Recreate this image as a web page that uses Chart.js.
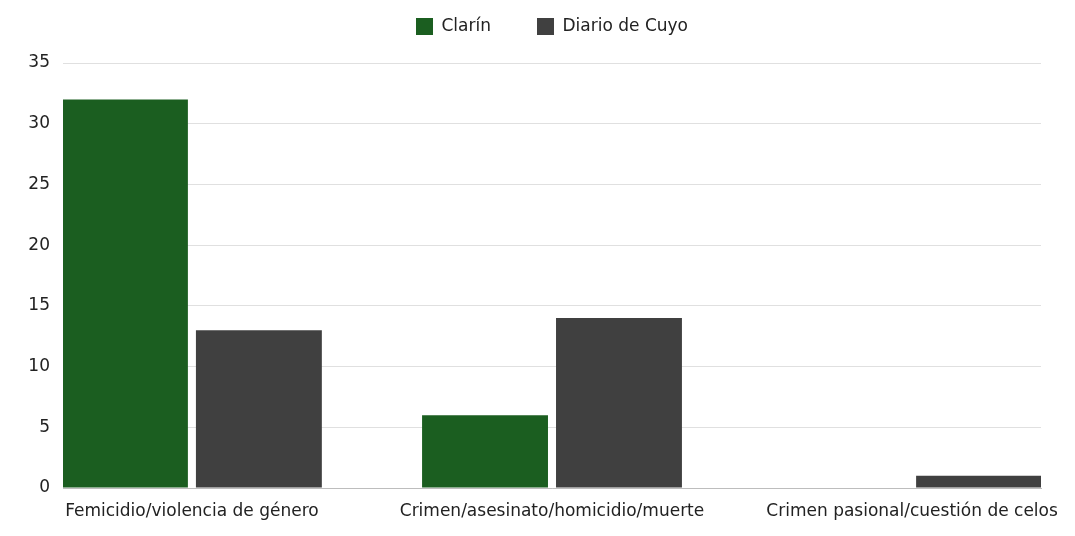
<!DOCTYPE html>
<html>
<head>
<meta charset="utf-8">
<script src="https://cdn.jsdelivr.net/npm/chart.js@4/dist/chart.umd.min.js"></script>
<style>
  html, body { margin: 0; padding: 0; background: #ffffff; }
  #wrap { width: 1075px; height: 536px; }
</style>
</head>
<body>
<div id="wrap"><canvas id="barChart"></canvas></div>
<script>
/************************
 *      Data
 ************************/
const CATEGORIES = ["Femicidio/violencia de género", "Crimen/asesinato/homicidio/muerte", "Crimen pasional/cuestión de celos"]
const SERIES_NAMES = ["Clarín", "Diario de Cuyo"]
const CLARIN = [32, 6, 0]
const DIARIO_CUYO = [13, 14, 1]
const Y_TICKS = [0, 5, 10, 15, 20, 25, 30, 35]

/************************
 *      Method
 ************************/
const toPoints = (values) => values.map((v, i) => ({ x: i, y: v }))

const FONT = { family: "'DejaVu Sans', sans-serif", size: 17 }
const TEXT_COLOR = '#222222'
const LEGEND_PAD = 46

// legend: wide gap between items, but keep it near the top
const legendSpacing = {
    id: 'legendSpacing',
    beforeInit(chart) {
        const fit = chart.legend.fit
        chart.legend.fit = function () {
            fit.bind(chart.legend)()
            this.height = 63
        }
    },
    afterLayout(chart) {
        chart.legend.top = 18 - LEGEND_PAD
    }
}

const createChart = () => {
    const data = {
        datasets: [{
            label: SERIES_NAMES[0],
            data: toPoints(CLARIN),
            backgroundColor: '#1b5e20'
        }, {
            label: SERIES_NAMES[1],
            data: toPoints(DIARIO_CUYO),
            backgroundColor: '#404040'
        }]
    };

    new Chart("barChart", {
        type: "bar",
        data: data,
        plugins: [legendSpacing],
        options: {
            responsive: true,
            maintainAspectRatio: false,
            animation: false,
            categoryPercentage: 0.744,
            barPercentage: 0.94,
            layout: { padding: { left: 0, right: 34, top: 0, bottom: 0 } },
            plugins: {
                legend: {
                    display: true,
                    position: 'top',
                    fullSize: false,
                    labels: {
                        boxWidth: 17,
                        boxHeight: 17,
                        padding: LEGEND_PAD,
                        color: TEXT_COLOR,
                        font: FONT
                    }
                },
                tooltip: { enabled: false }
            },
            scales: {
                x: {
                    type: 'linear',
                    min: -0.358,
                    max: 2.358,
                    bounds: 'data',
                    offset: false,
                    grid: { display: false },
                    border: { display: true, color: '#bdbdbd', width: 1 },
                    afterBuildTicks: (scale) => {
                        scale.ticks = CATEGORIES.map((c, i) => ({ value: i }))
                    },
                    afterFit: (scale) => { scale.height = 48 },
                    ticks: {
                        autoSkip: false,
                        maxRotation: 0,
                        color: TEXT_COLOR,
                        font: FONT,
                        padding: 5,
                        callback: (value) => CATEGORIES[value] || ''
                    }
                },
                y: {
                    min: Y_TICKS[0],
                    max: Y_TICKS[Y_TICKS.length - 1],
                    grid: { color: '#e0e0e0', drawTicks: false },
                    border: { display: false },
                    afterFit: (scale) => { scale.width = 63 },
                    ticks: {
                        stepSize: 5,
                        color: TEXT_COLOR,
                        font: FONT,
                        padding: 13
                    }
                }
            }
        }
    });
}

createChart()
</script>
</body>
</html>
